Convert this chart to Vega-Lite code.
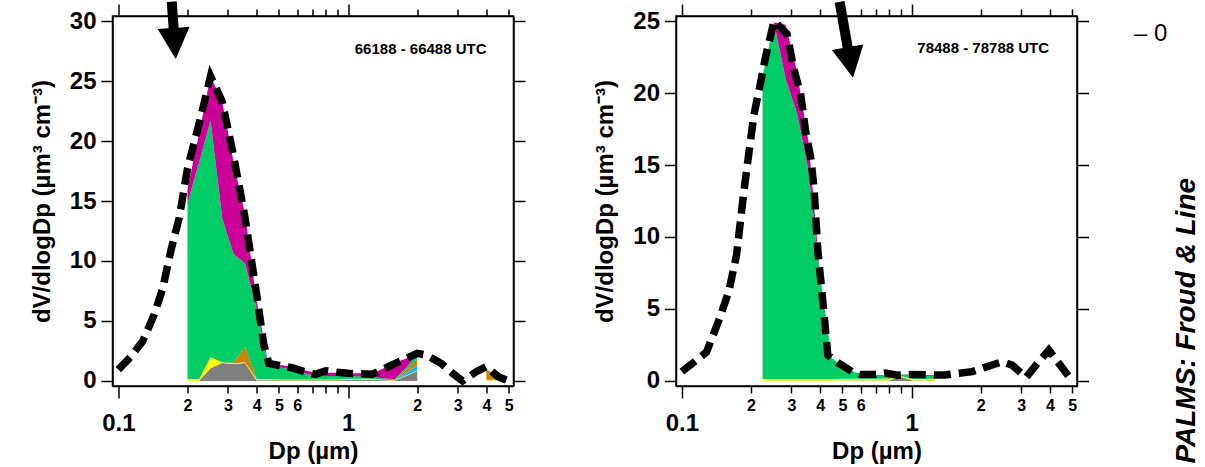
{
  "$schema": "https://vega.github.io/schema/vega-lite/v6.json",
  "padding": {"left": 29.5, "top": 0, "right": 0, "bottom": 0},
  "spacing": 66.5,
  "resolve": {"scale": {"x": "independent", "y": "independent"}},
  "config": {
    "font": "Liberation Sans",
    "view": {"stroke": "black", "strokeWidth": 1.5},
    "axis": {"grid": false, "domainColor": "black", "domainWidth": 1.5, "tickColor": "black", "tickWidth": 1.5, "labelColor": "black", "titleColor": "black", "labelFont": "Liberation Sans", "titleFont": "Liberation Sans", "labelFontWeight": "bold", "titleFontWeight": "bold"}
  },
  "datasets": {
    "areaL": [
      {"dp": 0.2, "c1": 0.02, "c2": 0.15, "c3": 0, "c4": 0, "c5": 14.63, "c6": 1.2},
      {"dp": 0.2245, "c1": 0.02, "c2": 0.15, "c3": 0, "c4": 0, "c5": 18.03, "c6": 2.4},
      {"dp": 0.252, "c1": 1.05, "c2": 0.92, "c3": 0, "c4": 0, "c5": 19.73, "c6": 3.7},
      {"dp": 0.283, "c1": 1.5, "c2": 0.05, "c3": 0, "c4": 0, "c5": 12.05, "c6": 9.7},
      {"dp": 0.317, "c1": 1.42, "c2": 0.05, "c3": 0, "c4": 0.05, "c5": 9.08, "c6": 7.7},
      {"dp": 0.356, "c1": 1.5, "c2": 0.05, "c3": 0, "c4": 1.31, "c5": 6.94, "c6": 4.1},
      {"dp": 0.4, "c1": 0.05, "c2": 0.1, "c3": 0, "c4": 0, "c5": 5.85, "c6": 0.7},
      {"dp": 0.449, "c1": 0.05, "c2": 0.1, "c3": 0, "c4": 0, "c5": 1.2, "c6": 0.1},
      {"dp": 0.504, "c1": 0.05, "c2": 0.08, "c3": 0, "c4": 0, "c5": 1.0, "c6": 0.2},
      {"dp": 0.566, "c1": 0.05, "c2": 0.08, "c3": 0, "c4": 0, "c5": 0.85, "c6": 0.22},
      {"dp": 0.635, "c1": 0.05, "c2": 0.08, "c3": 0, "c4": 0, "c5": 0.55, "c6": 0.24},
      {"dp": 0.713, "c1": 0.05, "c2": 0.08, "c3": 0, "c4": 0, "c5": 0.3, "c6": 0.27},
      {"dp": 0.8, "c1": 0.05, "c2": 0.08, "c3": 0, "c4": 0, "c5": 0.28, "c6": 0.27},
      {"dp": 0.898, "c1": 0.05, "c2": 0.08, "c3": 0, "c4": 0, "c5": 0.28, "c6": 0.27},
      {"dp": 1.008, "c1": 0.08, "c2": 0.08, "c3": 0, "c4": 0, "c5": 0.25, "c6": 0.24},
      {"dp": 1.13, "c1": 0.1, "c2": 0.08, "c3": 0, "c4": 0, "c5": 0.22, "c6": 0.25},
      {"dp": 1.27, "c1": 0.1, "c2": 0.08, "c3": 0, "c4": 0, "c5": 0.15, "c6": 0.27},
      {"dp": 1.43, "c1": 0.05, "c2": 0.05, "c3": 0, "c4": 0, "c5": 0.1, "c6": 0.85},
      {"dp": 1.6, "c1": 0.03, "c2": 0.05, "c3": 0, "c4": 0, "c5": 0.08, "c6": 1.35},
      {"dp": 1.8, "c1": 0.43, "c2": 0.05, "c3": 0.22, "c4": 0.25, "c5": 0.22, "c6": 0.73},
      {"dp": 2.0, "c1": 0.83, "c2": 0.05, "c3": 0.45, "c4": 0.5, "c5": 0.42, "c6": 0}
    ],
    "coarseL": [
      {"dp": 4.0, "c1": 0.02, "c2": 0.08, "c3": 0, "c4": 0.82, "c5": 0, "c6": 0},
      {"dp": 4.87, "c1": 0.02, "c2": 0.08, "c3": 0, "c4": 0.18, "c5": 0, "c6": 0}
    ],
    "areaR": [
      {"dp": 0.2245, "c1": 0.02, "c2": 0.12, "c3": 0, "c4": 0, "c5": 21.0, "c6": 0},
      {"dp": 0.252, "c1": 0.02, "c2": 0.12, "c3": 0, "c4": 0, "c5": 24.7, "c6": 0.05},
      {"dp": 0.283, "c1": 0.02, "c2": 0.12, "c3": 0, "c4": 0, "c5": 20.86, "c6": 3.75},
      {"dp": 0.317, "c1": 0.02, "c2": 0.12, "c3": 0, "c4": 0, "c5": 18.46, "c6": 2.9},
      {"dp": 0.356, "c1": 0.02, "c2": 0.12, "c3": 0, "c4": 0, "c5": 14.46, "c6": 2.0},
      {"dp": 0.4, "c1": 0.02, "c2": 0.12, "c3": 0, "c4": 0, "c5": 7.06, "c6": 0.1},
      {"dp": 0.449, "c1": 0.02, "c2": 0.12, "c3": 0, "c4": 0, "c5": 1.46, "c6": 0},
      {"dp": 0.504, "c1": 0.03, "c2": 0.12, "c3": 0, "c4": 0, "c5": 0.85, "c6": 0},
      {"dp": 0.566, "c1": 0.03, "c2": 0.12, "c3": 0, "c4": 0, "c5": 0.45, "c6": 0},
      {"dp": 0.635, "c1": 0.03, "c2": 0.12, "c3": 0, "c4": 0, "c5": 0.3, "c6": 0},
      {"dp": 0.713, "c1": 0.03, "c2": 0.12, "c3": 0, "c4": 0, "c5": 0.27, "c6": 0},
      {"dp": 0.8, "c1": 0.03, "c2": 0.12, "c3": 0, "c4": 0, "c5": 0.27, "c6": 0},
      {"dp": 0.898, "c1": 0.3, "c2": 0.05, "c3": 0, "c4": 0, "c5": 0.1, "c6": 0},
      {"dp": 1.008, "c1": 0.03, "c2": 0.12, "c3": 0, "c4": 0, "c5": 0.25, "c6": 0.05},
      {"dp": 1.13, "c1": 0.03, "c2": 0.12, "c3": 0, "c4": 0, "c5": 0.22, "c6": 0.05},
      {"dp": 1.27, "c1": 0.03, "c2": 0.12, "c3": 0, "c4": 0, "c5": 0.2, "c6": 0.05}
    ],
    "lineL": [
      {"dp": 0.1, "v": 0.95}, {"dp": 0.113, "v": 2.0}, {"dp": 0.1275, "v": 3.3}, {"dp": 0.143, "v": 5.5},
      {"dp": 0.156, "v": 7.7}, {"dp": 0.169, "v": 10.8}, {"dp": 0.184, "v": 13.6}, {"dp": 0.2, "v": 17.7},
      {"dp": 0.225, "v": 21.5}, {"dp": 0.252, "v": 25.4}, {"dp": 0.283, "v": 23.3}, {"dp": 0.317, "v": 18.8},
      {"dp": 0.356, "v": 13.6}, {"dp": 0.4, "v": 7.2}, {"dp": 0.43, "v": 3.0}, {"dp": 0.452, "v": 1.45},
      {"dp": 0.5, "v": 1.3}, {"dp": 0.57, "v": 1.1}, {"dp": 0.64, "v": 0.8}, {"dp": 0.72, "v": 0.55},
      {"dp": 0.8, "v": 0.85}, {"dp": 0.9, "v": 0.72}, {"dp": 1.0, "v": 0.65}, {"dp": 1.13, "v": 0.6},
      {"dp": 1.27, "v": 0.55}, {"dp": 1.43, "v": 1.0}, {"dp": 1.6, "v": 1.45}, {"dp": 1.8, "v": 1.9},
      {"dp": 2.0, "v": 2.3}, {"dp": 2.2, "v": 2.15}, {"dp": 2.55, "v": 1.45}, {"dp": 2.85, "v": 0.64},
      {"dp": 3.15, "v": 0.0}, {"dp": 3.6, "v": 0.75}, {"dp": 4.0, "v": 1.2}, {"dp": 4.5, "v": 0.36},
      {"dp": 5.0, "v": 0.0}
    ],
    "lineR": [
      {"dp": 0.1, "v": 0.65}, {"dp": 0.128, "v": 2.0}, {"dp": 0.144, "v": 4.1}, {"dp": 0.16, "v": 6.2},
      {"dp": 0.173, "v": 8.75}, {"dp": 0.186, "v": 13.1}, {"dp": 0.196, "v": 15.9}, {"dp": 0.206, "v": 18.5},
      {"dp": 0.22, "v": 20.7}, {"dp": 0.232, "v": 22.6}, {"dp": 0.252, "v": 25.0}, {"dp": 0.287, "v": 24.1},
      {"dp": 0.307, "v": 21.7}, {"dp": 0.329, "v": 19.9}, {"dp": 0.346, "v": 17.3}, {"dp": 0.364, "v": 15.5},
      {"dp": 0.376, "v": 13.4}, {"dp": 0.391, "v": 9.0}, {"dp": 0.407, "v": 6.2}, {"dp": 0.432, "v": 1.8},
      {"dp": 0.48, "v": 1.25}, {"dp": 0.55, "v": 0.65}, {"dp": 0.6, "v": 0.45}, {"dp": 0.7, "v": 0.45},
      {"dp": 0.77, "v": 0.55}, {"dp": 0.87, "v": 0.4}, {"dp": 1.0, "v": 0.45}, {"dp": 1.25, "v": 0.42},
      {"dp": 1.4, "v": 0.42}, {"dp": 1.84, "v": 0.65}, {"dp": 2.02, "v": 0.88}, {"dp": 2.49, "v": 1.34},
      {"dp": 2.74, "v": 1.1}, {"dp": 3.15, "v": 0.25}, {"dp": 3.48, "v": 1.1}, {"dp": 3.96, "v": 2.15},
      {"dp": 4.2, "v": 1.6}, {"dp": 4.98, "v": 0.05}
    ]
  },
  "hconcat": [
    {
      "width": 401,
      "height": 370,
      "resolve": {"axis": {"x": "independent", "y": "independent"}},
      "layer": [
        {
          "data": {"name": "areaL"},
          "transform": [{"fold": ["c1", "c2", "c3", "c4", "c5", "c6"], "as": ["comp", "v"]}],
          "mark": {"type": "area", "interpolate": "linear"},
          "encoding": {
            "x": {"field": "dp", "type": "quantitative", "scale": {"type": "log", "domain": [0.0943, 5.25], "nice": false},
              "axis": {"orient": "bottom", "values": [0.1, 0.2, 0.3, 0.4, 0.5, 0.6, 0.7, 0.8, 0.9, 1, 2, 3, 4, 5],
                "labelExpr": "datum.value==0.1?'0.1':datum.value==1?'1':(datum.value>0.65&&datum.value<0.95)?'':format(datum.value<1?datum.value*10:datum.value,'d')",
                "labelFontSize": {"condition": {"test": "datum.value==0.1||datum.value==1", "value": 24}, "value": 16},
                "labelPadding": {"condition": {"test": "datum.value==0.1||datum.value==1", "value": 13}, "value": 4},
                "tickSize": {"condition": {"test": "datum.value==0.1||datum.value==1", "value": 12}, "value": 7},
                "labelOverlap": false, "labelFlush": false,
                "title": "Dp (µm)", "titleFontSize": 24, "titlePadding": 4}},
            "y": {"field": "v", "type": "quantitative", "stack": "zero", "scale": {"domain": [-0.42, 30.42], "nice": false, "zero": false},
              "axis": {"orient": "left", "values": [0, 5, 10, 15, 20, 25, 30], "tickSize": 11.5, "labelPadding": 5, "labelFontSize": 24,
                "title": "dV/dlogDp (µm³ cm⁻³)", "titleFontSize": 24, "titlePadding": 15}},
            "color": {"field": "comp", "type": "nominal", "scale": {"domain": ["c1", "c2", "c3", "c4", "c5", "c6"], "range": ["#808080", "#FFFF00", "#1AB2FF", "#CC8400", "#00CC66", "#CC0099"]}, "legend": null},
            "order": {"field": "comp", "type": "ordinal"}
          }
        },
        {
          "data": {"name": "coarseL"},
          "transform": [{"fold": ["c1", "c2", "c3", "c4", "c5", "c6"], "as": ["comp", "v"]}],
          "mark": {"type": "area", "interpolate": "linear"},
          "encoding": {
            "x": {"field": "dp", "type": "quantitative", "scale": {"type": "log", "domain": [0.0943, 5.25], "nice": false}, "axis": null},
            "y": {"field": "v", "type": "quantitative", "stack": "zero", "axis": null},
            "color": {"field": "comp", "type": "nominal", "legend": null},
            "order": {"field": "comp", "type": "ordinal"}
          }
        },
        {
          "data": {"name": "lineL"},
          "mark": {"type": "line", "color": "black", "strokeWidth": 7.5, "strokeDash": [17, 8], "strokeCap": "butt"},
          "encoding": {
            "x": {"field": "dp", "type": "quantitative", "scale": {"type": "log", "domain": [0.0943, 5.25], "nice": false},
              "axis": {"orient": "top", "values": [0.1, 0.2, 0.3, 0.4, 0.5, 0.6, 0.7, 0.8, 0.9, 1, 2, 3, 4, 5], "labels": false, "title": null,
                "tickSize": {"condition": {"test": "datum.value==0.1||datum.value==1", "value": 12}, "value": 7}}},
            "y": {"field": "v", "type": "quantitative",
              "axis": {"orient": "right", "values": [0, 5, 10, 15, 20, 25, 30], "labels": false, "title": null, "tickSize": 11.5}}
          }
        },
        {
          "data": {"values": [{"xa": 0.1778, "ya": 26.84}]},
          "mark": {"type": "point", "shape": "M-0.3125,-3.59L0.3125,-3.59L0.3125,-1.94L1,-1.94L0,0L-1,-1.94L-0.3125,-1.94Z", "size": 1024, "angle": 356, "filled": true, "color": "black", "opacity": 1, "strokeWidth": 0},
          "encoding": {
            "x": {"field": "xa", "type": "quantitative", "axis": null},
            "y": {"field": "ya", "type": "quantitative", "axis": null}
          }
        },
        {
          "data": {"values": [{"xa": 2.07, "ya": 27.7, "t": "66188 - 66488 UTC"}]},
          "mark": {"type": "text", "fontSize": 15, "fontWeight": "bold", "color": "black", "align": "center", "baseline": "middle"},
          "encoding": {
            "x": {"field": "xa", "type": "quantitative", "axis": null},
            "y": {"field": "ya", "type": "quantitative", "axis": null},
            "text": {"field": "t"}
          }
        }
      ]
    },
    {
      "width": 401,
      "height": 370,
      "resolve": {"axis": {"x": "independent", "y": "independent"}},
      "layer": [
        {
          "data": {"name": "areaR"},
          "transform": [{"fold": ["c1", "c2", "c3", "c4", "c5", "c6"], "as": ["comp", "v"]}],
          "mark": {"type": "area", "interpolate": "linear"},
          "encoding": {
            "x": {"field": "dp", "type": "quantitative", "scale": {"type": "log", "domain": [0.0943, 5.25], "nice": false},
              "axis": {"orient": "bottom", "values": [0.1, 0.2, 0.3, 0.4, 0.5, 0.6, 0.7, 0.8, 0.9, 1, 2, 3, 4, 5],
                "labelExpr": "datum.value==0.1?'0.1':datum.value==1?'1':(datum.value>0.65&&datum.value<0.95)?'':format(datum.value<1?datum.value*10:datum.value,'d')",
                "labelFontSize": {"condition": {"test": "datum.value==0.1||datum.value==1", "value": 24}, "value": 16},
                "labelPadding": {"condition": {"test": "datum.value==0.1||datum.value==1", "value": 13}, "value": 4},
                "tickSize": {"condition": {"test": "datum.value==0.1||datum.value==1", "value": 12}, "value": 7},
                "labelOverlap": false, "labelFlush": false,
                "title": "Dp (µm)", "titleFontSize": 24, "titlePadding": 4}},
            "y": {"field": "v", "type": "quantitative", "stack": "zero", "scale": {"domain": [-0.35, 25.35], "nice": false, "zero": false},
              "axis": {"orient": "left", "values": [0, 5, 10, 15, 20, 25], "tickSize": 11.5, "labelPadding": 5, "labelFontSize": 24,
                "title": "dV/dlogDp (µm³ cm⁻³)", "titleFontSize": 24, "titlePadding": 15}},
            "color": {"field": "comp", "type": "nominal", "scale": {"domain": ["c1", "c2", "c3", "c4", "c5", "c6"], "range": ["#808080", "#FFFF00", "#1AB2FF", "#CC8400", "#00CC66", "#CC0099"]}, "legend": null},
            "order": {"field": "comp", "type": "ordinal"}
          }
        },
        {
          "data": {"name": "lineR"},
          "mark": {"type": "line", "color": "black", "strokeWidth": 7.5, "strokeDash": [17, 8], "strokeCap": "butt"},
          "encoding": {
            "x": {"field": "dp", "type": "quantitative", "scale": {"type": "log", "domain": [0.0943, 5.25], "nice": false},
              "axis": {"orient": "top", "values": [0.1, 0.2, 0.3, 0.4, 0.5, 0.6, 0.7, 0.8, 0.9, 1, 2, 3, 4, 5], "labels": false, "title": null,
                "tickSize": {"condition": {"test": "datum.value==0.1||datum.value==1", "value": 12}, "value": 7}}},
            "y": {"field": "v", "type": "quantitative",
              "axis": {"orient": "right", "values": [0, 5, 10, 15, 20, 25], "labels": false, "title": null, "tickSize": 11.5}}
          }
        },
        {
          "data": {"values": [{"xa": 0.556, "ya": 21.06}]},
          "mark": {"type": "point", "shape": "M-0.3125,-4.82L0.3125,-4.82L0.3125,-1.94L1,-1.94L0,0L-1,-1.94L-0.3125,-1.94Z", "size": 1024, "angle": 350, "filled": true, "color": "black", "opacity": 1, "strokeWidth": 0},
          "encoding": {
            "x": {"field": "xa", "type": "quantitative", "axis": null},
            "y": {"field": "ya", "type": "quantitative", "axis": null}
          }
        },
        {
          "data": {"values": [{"xa": 2.05, "ya": 23.1, "t": "78488 - 78788 UTC"}]},
          "mark": {"type": "text", "fontSize": 15, "fontWeight": "bold", "color": "black", "align": "center", "baseline": "middle"},
          "encoding": {
            "x": {"field": "xa", "type": "quantitative", "axis": null},
            "y": {"field": "ya", "type": "quantitative", "axis": null},
            "text": {"field": "t"}
          }
        },
        {
          "data": {"values": [{"xa": 11.0, "ya": 24.09, "t": "– 0"}]},
          "mark": {"type": "text", "fontSize": 24, "color": "black", "align": "center", "baseline": "middle"},
          "encoding": {
            "x": {"field": "xa", "type": "quantitative", "axis": null},
            "y": {"field": "ya", "type": "quantitative", "axis": null},
            "text": {"field": "t"}
          }
        },
        {
          "data": {"values": [{"xa": 17.2, "ya": -5.74, "t": "PALMS: Froud & Line"}]},
          "mark": {"type": "text", "fontSize": 28, "fontWeight": "bold", "fontStyle": "italic", "color": "black", "align": "left", "baseline": "alphabetic", "angle": 270},
          "encoding": {
            "x": {"field": "xa", "type": "quantitative", "axis": null},
            "y": {"field": "ya", "type": "quantitative", "axis": null},
            "text": {"field": "t"}
          }
        }
      ]
    }
  ]
}
